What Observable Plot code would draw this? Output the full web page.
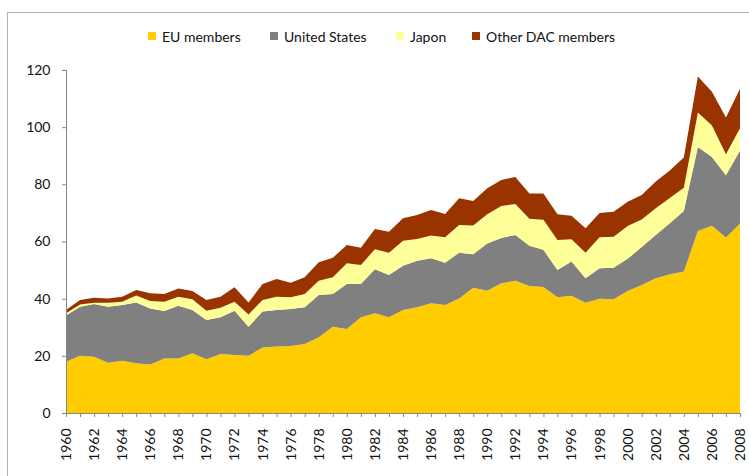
<!DOCTYPE html>
<html>
<head>
<meta charset="utf-8">
<script src="https://cdn.jsdelivr.net/npm/d3@7"></script>
<script src="https://cdn.jsdelivr.net/npm/@observablehq/plot@0.6"></script>
<style>
  html, body { margin: 0; padding: 0; background: #fff; }
  #wrap { position: relative; width: 749px; height: 476px; overflow: hidden; font-family: Lato, "Open Sans", sans-serif; }
  #frame { position: absolute; left: 7px; top: 12px; width: 800px; height: 520px; border: 1px solid #b3b3b3; box-sizing: border-box; }
  #chart { position: absolute; left: 0; top: 0; }
  #legend { position: absolute; left: 0; top: 27px; width: 749px; height: 20px; font-size: 14px; color: #111; }
  .item { position: absolute; top: 0; display: flex; align-items: center; height: 18px; white-space: nowrap; }
  .sw { width: 8px; height: 8px; margin-right: 6px; }
</style>
</head>
<body>
<div id="wrap">
  <div id="frame"></div>
  <div id="chart"></div>
  <div id="legend"></div>
</div>
<script>
const years = d3.range(1960, 2009);
const seriesNames = ["EU members", "United States", "Japon", "Other DAC members"];
const seriesColors = ["#FFCC00", "#808080", "#FFFF99", "#993300"];

const euMembers = [17.9, 20.0, 19.7, 17.6, 18.3, 17.4, 17.0, 19.1, 19.1, 20.9,
  18.8, 20.6, 20.3, 20.0, 22.9, 23.3, 23.4, 24.1, 26.5, 30.2,
  29.4, 33.5, 34.9, 33.5, 36.0, 37.0, 38.4, 37.8, 40.1, 43.8,
  42.8, 45.4, 46.3, 44.4, 44.1, 40.5, 41.0, 38.6, 40.0, 39.8,
  42.7, 44.8, 47.1, 48.5, 49.5, 63.7, 65.5, 61.4, 66.3];
const unitedStates = [16.2, 17.2, 18.4, 19.6, 19.5, 21.3, 19.6, 16.6, 18.4, 15.1,
  13.7, 12.9, 15.5, 10.2, 12.6, 12.7, 13.0, 12.9, 14.8, 11.4,
  15.7, 11.6, 15.4, 14.8, 15.5, 16.3, 15.7, 14.8, 16.0, 11.7,
  16.5, 15.8, 16.0, 14.1, 13.0, 9.5, 12.0, 8.5, 10.6, 11.0,
  11.3, 13.3, 15.2, 17.9, 21.2, 29.4, 24.1, 21.8, 25.5];
const japon = [0.8, 0.8, 0.5, 1.4, 1.1, 2.4, 2.6, 3.2, 3.2, 3.8,
  3.3, 3.3, 3.1, 4.3, 4.0, 4.7, 4.1, 4.6, 5.0, 5.9,
  7.3, 6.7, 7.0, 7.8, 8.8, 7.6, 8.0, 8.9, 9.7, 10.1,
  10.2, 11.2, 10.8, 9.5, 10.5, 10.5, 7.8, 9.0, 10.9, 10.9,
  11.4, 9.6, 9.3, 8.8, 8.1, 12.0, 11.0, 7.3, 7.8];
const otherDac = [1.1, 1.5, 1.7, 1.5, 1.8, 1.9, 2.7, 2.7, 2.9, 2.9,
  3.7, 3.9, 5.1, 4.2, 5.6, 6.2, 5.1, 5.9, 6.4, 6.8,
  6.4, 6.0, 7.1, 7.3, 7.8, 8.4, 8.9, 8.1, 9.3, 8.6,
  9.1, 9.1, 9.5, 8.8, 9.2, 9.0, 8.2, 8.5, 8.5, 8.7,
  8.5, 8.6, 9.4, 9.6, 10.6, 12.6, 11.8, 12.9, 13.8];
const yTicks = [0, 20, 40, 60, 80, 100, 120];
const yearLabels = d3.range(1960, 2009, 2);
const legendLefts = [148, 270, 396, 472];

const seriesValues = [euMembers, unitedStates, japon, otherDac];
const data = [];
seriesNames.forEach((s, i) => {
  years.forEach((yr, j) => data.push({year: yr, series: s, value: seriesValues[i][j]}));
});

const chart = Plot.plot({
  width: 749,
  height: 476,
  marginTop: 70,
  marginBottom: 63,
  marginLeft: 66,
  marginRight: 9,
  style: {fontFamily: "Lato, 'Open Sans', sans-serif", fontSize: "14px", color: "#111", background: "transparent"},
  x: {domain: [1960, 2008]},
  y: {domain: [0, 120]},
  color: {domain: seriesNames, range: seriesColors},
  marks: [
    Plot.areaY(data, {x: "year", y: "value", z: "series", fill: "series", order: seriesNames}),
    Plot.ruleX([1960], {stroke: "#868686"}),
    Plot.ruleY([0], {stroke: "#868686"}),
    Plot.axisY({ticks: yTicks, tickSize: 4, tickPadding: 12, stroke: "#868686", strokeOpacity: 1, fontSize: 14, label: null, tickFormat: d => d}),
    Plot.axisX({ticks: years, tickSize: 4, tickFormat: () => "", stroke: "#868686", strokeOpacity: 1, label: null}),
    Plot.axisX({ticks: yearLabels, tickSize: 0, tickPadding: 15, tickRotate: -90, tickFormat: d => String(d), fontSize: 14, label: null})
  ]
});
document.getElementById("chart").appendChild(chart);

const legend = document.getElementById("legend");
seriesNames.forEach((s, i) => {
  const it = document.createElement("div");
  it.className = "item";
  it.style.left = legendLefts[i] + "px";
  const sw = document.createElement("div");
  sw.className = "sw";
  sw.style.background = seriesColors[i];
  const t = document.createElement("span");
  t.textContent = s;
  it.appendChild(sw);
  it.appendChild(t);
  legend.appendChild(it);
});
</script>
</body>
</html>
